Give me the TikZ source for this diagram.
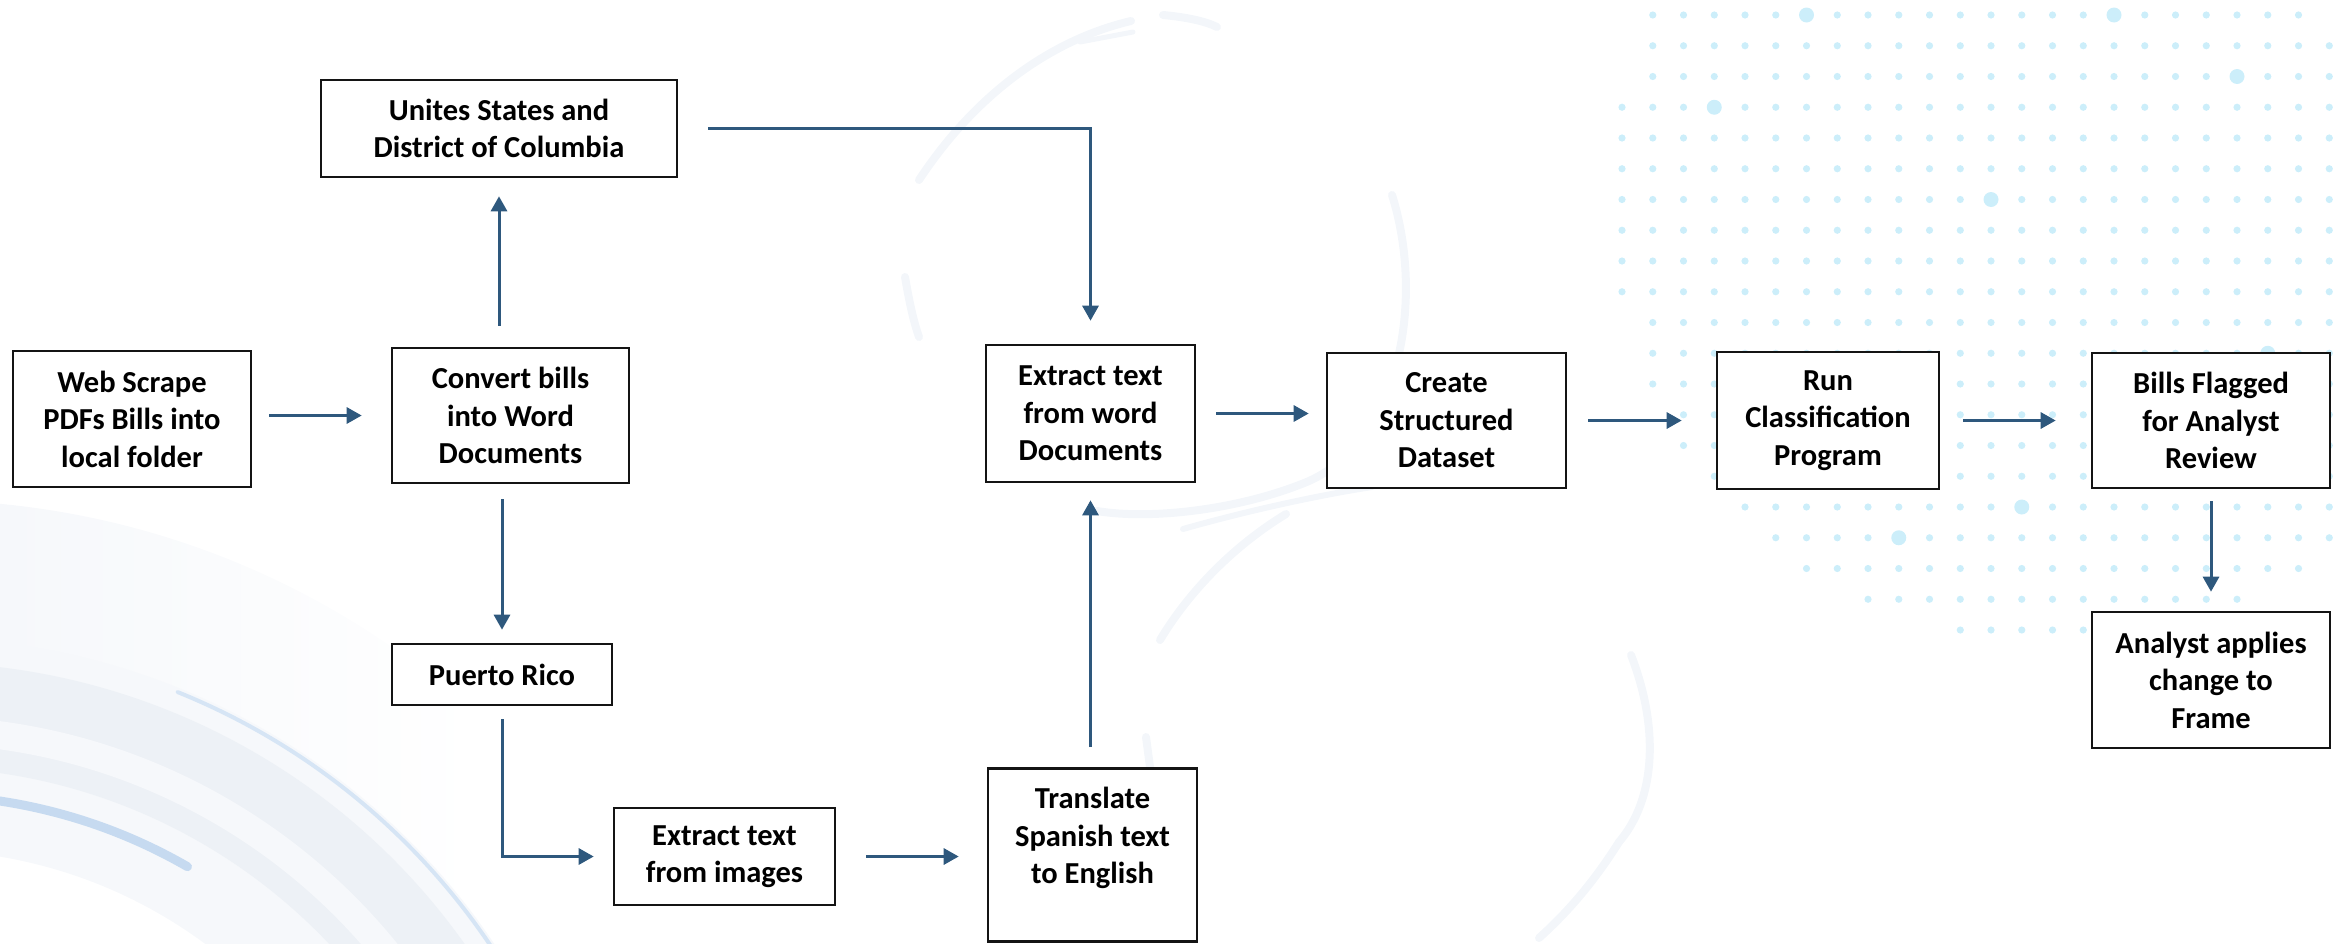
\documentclass[tikz,border=0pt]{standalone}
\usepackage{fontspec}
\setmainfont{Carlito}
\usetikzlibrary{arrows.meta}

\definecolor{flow}{RGB}{46,88,125}
\definecolor{dotblue}{RGB}{204,238,250}
\definecolor{ringpale}{RGB}{246,248,251}
\definecolor{ringgray}{RGB}{237,241,246}
\definecolor{ringblue}{RGB}{214,229,245}
\definecolor{ringdeep}{RGB}{198,218,240}
\definecolor{swirl}{RGB}{243,246,250}

\begin{document}
\begin{tikzpicture}[x=1pt,y=-1pt,
  stepbox/.style={draw=black!92, line width=2.6pt, fill=white, align=center,
    inner sep=0pt, font=\bfseries\fontsize{30.5}{37.5}\selectfont},
  boxlabel/.style={align=center, inner sep=0pt,
    font=\bfseries\fontsize{30.5}{37.5}\selectfont},
  flowarrow/.style={draw=flow, line width=3pt,
    -{Triangle[length=15pt,width=16pt]}},
  swirlline/.style={draw=swirl, line width=8pt, line cap=round},
]
\useasboundingbox (0,0) rectangle (2336,943);

% ---------- background decoration ----------
\begin{scope}
\clip (0,0) rectangle (2336,943);
% soft outer band of the ring, fading towards the right
\begin{scope}[even odd rule]
  \clip (-80,1330) circle[radius=830] (-80,1330) circle[radius=690];
  \shade[left color=ringpale, right color=white] (0,480) rectangle (480,943);
\end{scope}
% large ring in the lower left corner
\fill[ringpale, even odd rule] (-80,1330) circle[radius=692] (-80,1330) circle[radius=480];
\draw[ringgray, line width=105pt] (-80,1330) ++(-100:615) arc[start angle=-100, end angle=-15, radius=615];
\draw[ringpale, line width=28pt] (-80,1330) ++(-100:600) arc[start angle=-100, end angle=-15, radius=600];
\draw[ringblue, line width=4pt, line cap=round] (-80,1330) ++(-68:688) arc[start angle=-68, end angle=-10, radius=688];
\draw[ringblue, line width=4pt, line cap=round] (-80,1330) ++(-98:660) arc[start angle=-98, end angle=-89, radius=660];
\draw[ringdeep, line width=9pt, line cap=round] (-80,1330) ++(-100:535) arc[start angle=-100, end angle=-60, radius=535];

% faint swirl in the middle
\draw[swirlline] (919,180) .. controls (975,95) and (1050,40) .. (1131,21);
\draw[swirlline, line width=5pt] (1080,42) -- (1133,32);
\draw[swirlline] (1163,15) .. controls (1185,17) and (1205,21) .. (1217,27);
\draw[swirlline] (905,277) .. controls (909,300) and (913,320) .. (919,337);
\draw[swirlline] (1392,195) .. controls (1425,300) and (1400,440) .. (1309,481)
  .. controls (1240,510) and (1150,520) .. (1097,511);
\draw[swirlline] (1160,640) .. controls (1190,590) and (1235,545) .. (1286,514);
\draw[swirlline, line width=6pt] (1183,529) .. controls (1250,510) and (1320,495) .. (1372,487);
\draw[swirlline] (1146,737) -- (1152,782);
\draw[swirlline] (1631,655) .. controls (1660,730) and (1655,800) .. (1619,842)
  .. controls (1595,880) and (1570,910) .. (1539,938);

% dotted field in the upper right
\foreach \j/\a/\b in {0/1/22,1/1/23,2/1/23,3/0/23,4/0/23,5/0/23,6/0/23,7/0/23,
    8/0/23,9/0/23,10/1/23,11/1/23,12/1/23,13/2/23,14/2/23,15/3/23,16/4/23,
    17/5/23,18/6/22,19/8/20,20/11/15}{
  \foreach \i in {\a,...,\b}{
    \fill[dotblue] ({1622+30.75*\i},{15+30.75*\j}) circle[radius=3.6];
  }
}
\foreach \i/\j in {6/0,16/0,20/2,3/3,12/6,21/11,13/16,9/17}{
  \fill[dotblue] ({1622+30.75*\i},{15+30.75*\j}) circle[radius=7.5];
}
\end{scope}

% ---------- process steps ----------
\node[stepbox, minimum width=238, minimum height=136] (web) at (132,419)
  {Web Scrape\\PDFs Bills into\\local folder};
\node[stepbox, minimum width=237, minimum height=135] (convert) at (510.5,415.5)
  {Convert bills\\into Word\\Documents};
\node[stepbox, minimum width=356, minimum height=97] (unites) at (499,128.5)
  {Unites States and\\District of Columbia};
\node[stepbox, minimum width=220, minimum height=61] (puerto) at (502,674.5)
  {Puerto Rico};
\node[stepbox, minimum width=221, minimum height=97] (extimg) at (724.5,856.5)
  {Extract text\\from images};
\node[stepbox, minimum width=209, minimum height=173] (translate) at (1092.5,855) {};
\node[boxlabel] (translatetext) at (1092.5,838)
  {Translate\\Spanish text\\to English};
\node[stepbox, minimum width=209, minimum height=137] (extword) at (1090.5,413.5)
  {Extract text\\from word\\Documents};
\node[stepbox, minimum width=239, minimum height=135] (create) at (1446.5,420.5)
  {Create\\Structured\\Dataset};
\node[stepbox, minimum width=222, minimum height=137] (run) at (1828,420.5)
  {Run\\Classification\\Program};
\node[stepbox, minimum width=238, minimum height=135] (bills) at (2211,420.5)
  {Bills Flagged\\for Analyst\\Review};
\node[stepbox, minimum width=238, minimum height=136] (analyst) at (2211,680)
  {Analyst applies\\change to\\Frame};

% ---------- connectors ----------
\draw[flowarrow, shorten <=17pt, shorten >=29pt] (convert.west -| web.east) -- (convert.west);
\draw[flowarrow, shorten <=21pt, shorten >=18pt] (convert.north -| unites.south) -- (unites.south);
\draw[flowarrow, shorten <=15pt, shorten >=13pt] (convert.south -| puerto.north) -- (puerto.north);
\draw[flowarrow, shorten <=13pt, shorten >=19pt] (puerto.south) |- (extimg.west);
\draw[flowarrow, shorten <=30pt, shorten >=28pt] (extimg.east) -- (extimg.east -| translate.west);
\draw[flowarrow, shorten <=20pt, shorten >=17pt] (translate.north -| extword.south) -- (extword.south);
\draw[flowarrow, shorten <=30pt, shorten >=23pt] (unites.east) -| (extword.north);
\draw[flowarrow, shorten <=20pt, shorten >=17pt] (extword.east) -- (extword.east -| create.west);
\draw[flowarrow, shorten <=21pt, shorten >=34pt] (create.east) -- (create.east -| run.west);
\draw[flowarrow, shorten <=23pt, shorten >=35pt] (run.east) -- (run.east -| bills.west);
\draw[flowarrow, shorten <=12pt, shorten >=19pt] (bills.south) -- (analyst.north);
\end{tikzpicture}
\end{document}
